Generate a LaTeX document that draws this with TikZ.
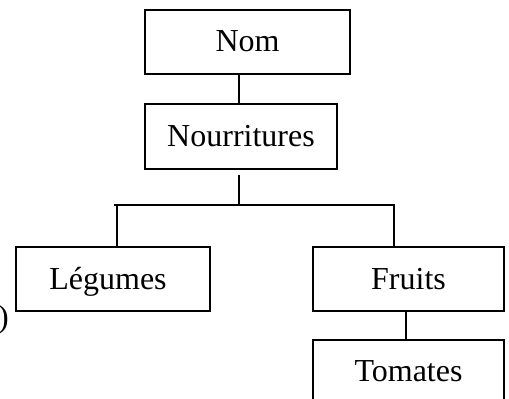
\documentclass[tikz,border=0pt]{standalone}
\usepackage{fontspec}
\setmainfont{Liberation Serif}
\begin{document}
\begin{tikzpicture}[x=1pt,y=-1pt,
  box/.style={draw, line width=2pt, inner sep=0pt, minimum height=64pt,
    text height=21pt, text depth=1pt, font=\fontsize{32}{36}\selectfont},
  link/.style={line width=2pt}]
\useasboundingbox (0,0) rectangle (509,399);
\clip (0,0) rectangle (509,399);
\node[box, minimum width=205pt] (nom) at (247.5,41.5) {Nom};
\node[box, minimum width=192pt, minimum height=65pt] (nour) at (241,136.5) {Nourritures};
\node[box, minimum width=194pt] (leg) at (113,279) {\hspace*{-10pt}Légumes};
\node[box, minimum width=191pt] (fru) at (408.5,279) {Fruits};
\node[box, minimum width=191pt, minimum height=62pt] (tom) at (408.5,371) {Tomates};
\node[inner sep=0pt, anchor=base east, font=\fontsize{32}{36}\selectfont] (par) at (9,327) {)};
\coordinate (c1) at (239,0);
\coordinate (c0) at (239,175);
\coordinate (bl) at (114,205);
\coordinate (br) at (395,205);
\coordinate (c2) at (117,205);
\coordinate (c3) at (394,205);
\coordinate (c4) at (406,0);
\draw[link] (nom.south -| c1) -- (nour.north -| c1);
\draw[link] (c0) -- (c0 |- bl);
\draw[link] (bl) -- (br);
\draw[link] (c2) -- (leg.north -| c2);
\draw[link] (c3) -- (fru.north -| c3);
\draw[link] (fru.south -| c4) -- (tom.north -| c4);
\end{tikzpicture}
\end{document}
